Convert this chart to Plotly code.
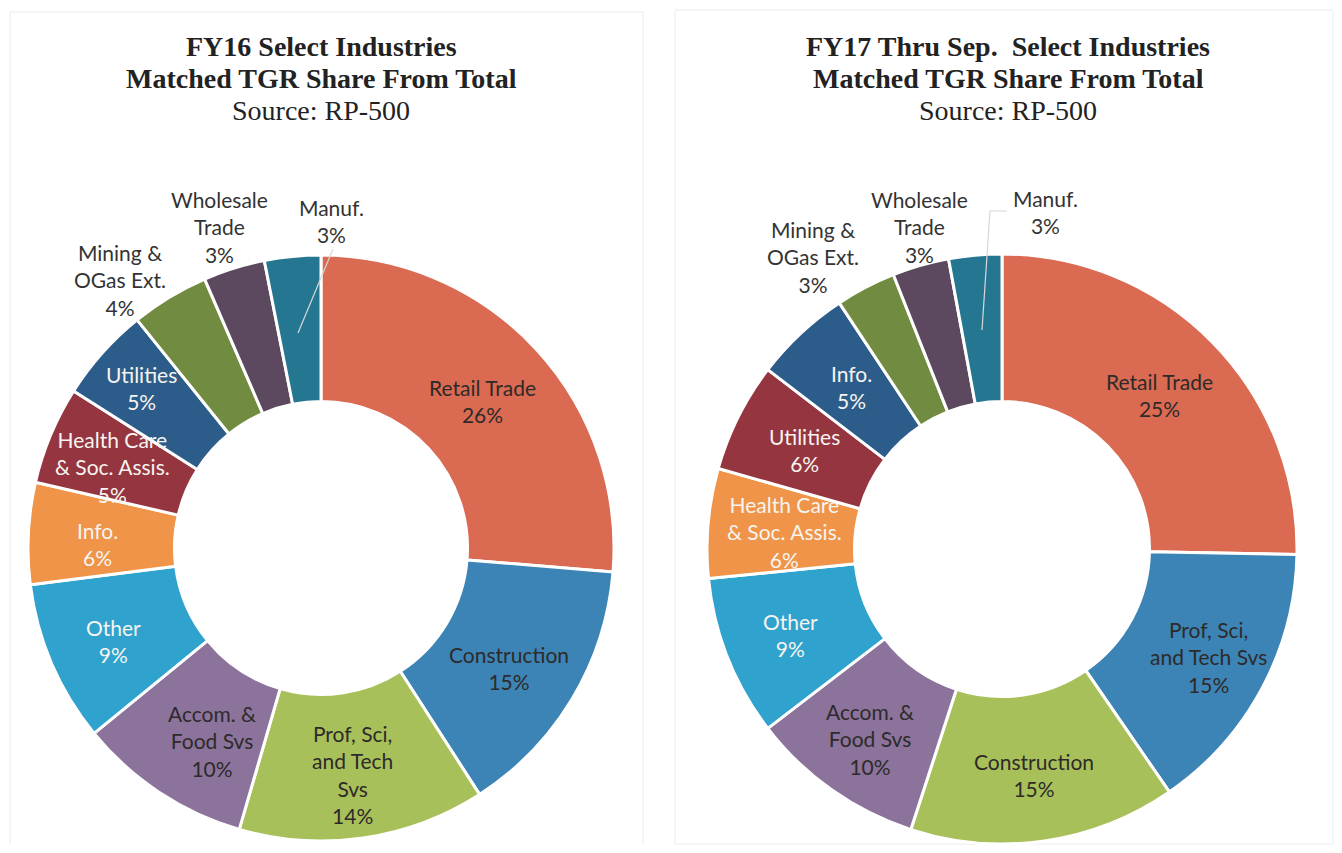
import math
import plotly.graph_objects as go

# page is rendered with an 8px body margin, so the figure is 16px smaller than the window
OFF = 8
W, H = 1342 - 2 * OFF, 853 - 2 * OFF

# ---------------- data ----------------
fy16_categories = ["Retail Trade", "Construction", "Prof, Sci, and Tech Svs", "Accom. & Food Svs",
                   "Other", "Info.", "Health Care & Soc. Assis.", "Utilities",
                   "Mining & OGas Ext.", "Wholesale Trade", "Manuf."]
fy16_values = [26.3, 14.6, 13.6, 9.6, 8.9, 5.6, 5.4, 5.2, 4.3, 3.4, 3.1]
fy16_labels = ["Retail Trade", "Construction", "Prof, Sci,<br>and Tech<br>Svs", "Accom. &<br>Food Svs",
               "Other", "Info.", "Health Care<br>& Soc. Assis.", "Utilities",
               "Mining &<br>OGas Ext.", "Wholesale<br>Trade", "Manuf."]

fy17_categories = ["Retail Trade", "Prof, Sci, and Tech Svs", "Construction", "Accom. & Food Svs",
                   "Other", "Health Care & Soc. Assis.", "Utilities", "Info.",
                   "Mining & OGas Ext.", "Wholesale Trade", "Manuf."]
fy17_values = [25.3, 15.1, 14.6, 9.6, 8.8, 6.0, 6.0, 5.3, 3.3, 3.1, 2.9]
fy17_labels = ["Retail Trade", "Prof, Sci,<br>and Tech Svs", "Construction", "Accom. &<br>Food Svs",
               "Other", "Health Care<br>& Soc. Assis.", "Utilities", "Info.",
               "Mining &<br>OGas Ext.", "Wholesale<br>Trade", "Manuf."]

title_lines = [["FY16 Select Industries", "Matched TGR Share From Total"],
               ["FY17 Thru Sep.  Select Industries", "Matched TGR Share From Total"]]
subtitle = "Source: RP-500"

# ---------------- styles ----------------
slice_colors = ["#DA6A52", "#3C84B5", "#A8C05A", "#8B739B", "#2FA3CE", "#EF9448",
                "#953540", "#2C5D8A", "#718C40", "#5C4960", "#257791"]
inside_dark = [True, True, True, True, False, False, False, False]
DARK = "#2e2a2a"
LIGHT = "#f7f4f0"
LABEL_FONT = "Lato, 'Open Sans', sans-serif"
TITLE_FONT = "'Liberation Serif', 'DejaVu Serif', serif"

charts = [
    dict(values=fy16_values, labels=fy16_labels, cats=fy16_categories, cx=321, cy=548, r=293,
         nudge=[(0, 2), (0, 7), (0, 9), (12, 10), (-6, 6), (-4, 7), (-6, 4), (-16, -14)],
         outside=[(120, 280), (220, 227), (331, 221)],
         leader=[(298, 333), (333, 249)],
         title_x=321, panel=(10, 12, 643, 850)),
    dict(values=fy17_values, labels=fy17_labels, cats=fy17_categories, cx=1002, cy=549, r=295,
         nudge=[(0, 1), (12, 3), (0, 7), (-4, 9), (-6, 5), (3, 2), (0, 0), (0, 0)],
         outside=[(813, 257), (919, 227), (1045, 212)],
         leader=[(982, 330), (990, 211), (1007, 211)],
         title_x=1008, panel=(675, 10, 1333, 844)),
]


def px(x):
    return (x - OFF) / W


def py(y):
    return 1 - (y - OFF) / H


fig = go.Figure()
annotations = []
shapes = []

for ch in charts:
    cx, cy, r = ch["cx"], ch["cy"], ch["r"]
    fig.add_trace(go.Pie(
        labels=ch["cats"], values=ch["values"], sort=False, direction="clockwise", rotation=0,
        hole=0.5, textinfo="none", hoverinfo="label+percent",
        marker=dict(colors=slice_colors, line=dict(color="white", width=3)),
        domain=dict(x=[px(cx - r), px(cx + r)], y=[py(cy + r), py(cy - r)]),
        showlegend=False,
    ))
    total = sum(ch["values"])
    cum = 0.0
    n = len(ch["values"])
    for i, (v, lab) in enumerate(zip(ch["values"], ch["labels"])):
        pct = f"{round(v / total * 100)}%"
        text = f"{lab}<br>{pct}"
        if i < n - 3:
            a = math.radians((cum + v / 2) / total * 360)
            R = 0.75 * r
            dx, dy = ch["nudge"][i]
            x = cx + R * math.sin(a) + dx
            y = cy - R * math.cos(a) + dy
            color = DARK if inside_dark[i] else LIGHT
        else:
            x, y = ch["outside"][i - (n - 3)]
            color = "#333333"
        annotations.append(dict(
            x=px(x), y=py(y), xref="paper", yref="paper", text=text, showarrow=False,
            font=dict(family=LABEL_FONT, size=21, color=color), align="center",
            xanchor="center", yanchor="middle"))
        cum += v
    # leader line for Manuf.
    pts = ch["leader"]
    path = "M " + " L ".join(f"{px(x)},{py(y)}" for x, y in pts)
    shapes.append(dict(type="path", path=path, xref="paper", yref="paper",
                       line=dict(color="#d8d8d8", width=1.2)))
    # panel border
    x0, y0, x1, y1 = ch["panel"]
    shapes.append(dict(type="rect", xref="paper", yref="paper",
                       x0=px(x0), x1=px(x1), y0=py(y1), y1=py(y0),
                       line=dict(color="#ececec", width=1), layer="below"))

for k, ch in enumerate(charts):
    for j, (line, ypos) in enumerate(zip(title_lines[k], [47, 79])):
        annotations.append(dict(
            x=px(ch["title_x"]), y=py(ypos), xref="paper", yref="paper", text=f"<b>{line}</b>",
            showarrow=False, font=dict(family=TITLE_FONT, size=28, color="#222222"),
            xanchor="center", yanchor="middle", align="center"))
    annotations.append(dict(
        x=px(ch["title_x"]), y=py(110), xref="paper", yref="paper", text=subtitle,
        showarrow=False, font=dict(family=TITLE_FONT, size=28, color="#222222"),
        xanchor="center", yanchor="middle", align="center"))

fig.update_layout(
    width=W, height=H, margin=dict(l=0, r=0, t=0, b=0),
    paper_bgcolor="white", plot_bgcolor="white",
    annotations=annotations, shapes=shapes,
)

fig.write_html("out.html")
